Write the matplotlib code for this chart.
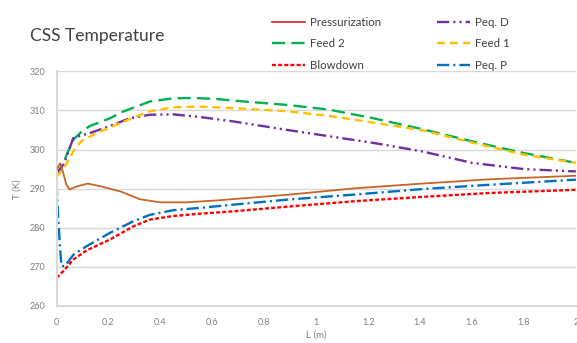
import numpy as np
import matplotlib
matplotlib.use("Agg")
import matplotlib.pyplot as plt

# values (L in m, T in K)
x_press = [0, 0.014, 0.025, 0.038, 0.05, 0.08, 0.12, 0.17, 0.25, 0.32, 0.4, 0.5, 0.62, 0.75, 0.9, 1.15, 1.41, 1.67, 2.0]
t_press = [294.8, 296.5, 294.2, 291.0, 289.8, 290.6, 291.3, 290.6, 289.2, 287.3, 286.5, 286.5, 287.0, 287.7, 288.5, 290.1, 291.3, 292.4, 293.3]

x_feed2 = [0, 0.036, 0.064, 0.1, 0.128, 0.206, 0.256, 0.36, 0.45, 0.53, 0.62, 0.72, 0.89, 1.05, 1.22, 1.41, 1.6, 1.8, 2.0]
t_feed2 = [293.1, 298.2, 302.5, 304.8, 306.0, 308.0, 309.7, 312.3, 313.1, 313.2, 312.9, 312.3, 311.4, 310.2, 308.0, 305.2, 302.1, 299.1, 296.6]

x_feed1 = [0, 0.04, 0.072, 0.1, 0.154, 0.206, 0.256, 0.36, 0.45, 0.55, 0.68, 0.89, 1.05, 1.22, 1.41, 1.6, 1.8, 2.0]
t_feed1 = [292.9, 296.5, 300.5, 302.3, 304.2, 305.6, 307.1, 309.8, 310.8, 311.0, 310.6, 309.8, 308.6, 306.9, 304.9, 301.8, 298.7, 296.6]

x_peqd = [0, 0.03, 0.064, 0.1, 0.128, 0.205, 0.282, 0.36, 0.45, 0.555, 0.68, 0.89, 1.05, 1.22, 1.41, 1.6, 1.8, 2.0]
t_peqd = [293.8, 296.5, 302.9, 303.7, 304.2, 306.0, 308.0, 308.9, 309.0, 308.3, 307.2, 305.0, 303.4, 301.7, 299.5, 296.6, 295.0, 294.4]

x_blow = [0, 0.026, 0.065, 0.116, 0.206, 0.297, 0.36, 0.45, 0.555, 0.68, 0.89, 1.15, 1.41, 1.67, 2.0]
t_blow = [267.2, 268.9, 271.9, 274.2, 277.0, 280.4, 282.1, 283.0, 283.6, 284.2, 285.4, 286.8, 287.9, 288.9, 289.7]

x_peqp = [0, 0.006, 0.013, 0.019, 0.032, 0.065, 0.116, 0.206, 0.297, 0.36, 0.45, 0.555, 0.68, 0.89, 1.15, 1.41, 1.67, 2.0]
t_peqp = [291.4, 283.0, 275.3, 270.2, 270.2, 273.1, 275.3, 278.7, 281.7, 283.3, 284.5, 285.1, 285.9, 287.2, 288.5, 289.9, 291.0, 292.3]

y_ticks = [260, 270, 280, 290, 300, 310, 320]
x_ticks = [0, 0.2, 0.4, 0.6, 0.8, 1, 1.2, 1.4, 1.6, 1.8, 2]
x_tick_labels = ["0", "0.2", "0.4", "0.6", "0.8", "1", "1.2", "1.4", "1.6", "1.8", "2"]

plt.rcParams['font.family'] = ['Lato', 'DejaVu Sans']

fig = plt.figure(figsize=(5.77, 3.43), dpi=100)
ax = fig.add_axes([0.098, 0.108, 0.9, 0.684])

lw = 1.7
ax.plot(x_press, t_press, color='#C8642A', lw=1.3, zorder=3, label='Pressurization')
ax.plot(x_feed2, t_feed2, color='#00B050', lw=lw, ls=(0, (5.6, 2.6)), label='Feed 2')
ax.plot(x_blow, t_blow, color='#FF0000', lw=lw, ls=(0, (1.7, 0.9)), label='Blowdown')
ax.plot(x_peqd, t_peqd, color='#7030A0', lw=lw, ls=(0, (5.2, 1.7, 0.9, 1.7, 0.9, 1.7)), label='Peq. D')
ax.plot(x_feed1, t_feed1, color='#FFC000', lw=lw, ls=(0, (3.4, 2.1)), label='Feed 1')
ax.plot(x_peqp, t_peqp, color='#0070C0', lw=lw, ls=(0, (5.2, 1.7, 0.9, 1.7)), label='Peq. P')

ax.set_xlim(0, 2)
ax.set_ylim(260, 320)
ax.set_yticks(y_ticks)
ax.set_xticks(x_ticks)
ax.set_xticklabels(x_tick_labels)
ax.tick_params(length=0, labelsize=6.5, labelcolor='#7F7F7F')
ax.tick_params(axis='y', pad=8)
ax.tick_params(axis='x', pad=9)
ax.grid(axis='y', color='#D9D9D9', lw=1)
ax.set_axisbelow(True)
for s in ['top', 'right']:
    ax.spines[s].set_visible(False)
ax.spines['left'].set_color('#D9D9D9')
ax.spines['bottom'].set_color('#D9D9D9')
ax.spines['left'].set_linewidth(1.5)
ax.spines['bottom'].set_linewidth(1.5)

ax.set_xlabel('L (m)', fontsize=7, color='#7F7F7F', labelpad=2)
ax.set_ylabel('T (K)', fontsize=7, color='#7F7F7F', labelpad=6)

fig.text(0.052, 0.895, 'CSS Temperature', fontsize=12.5, color='#404040', va='center')

leg = fig.legend(loc='center left', bbox_to_anchor=(0.455, 0.872), ncol=2, frameon=False,
                 fontsize=8.3, handlelength=2.9, columnspacing=4.8, labelspacing=0.9,
                 handletextpad=0.45, borderpad=0.3)
for t in leg.get_texts():
    t.set_color('#404040')
# legend shows pressurization in red
leg.legend_handles[0].set_color('#D02020')
leg.legend_handles[0].set_linewidth(1.2)

fig.savefig('out.png', dpi=100)
